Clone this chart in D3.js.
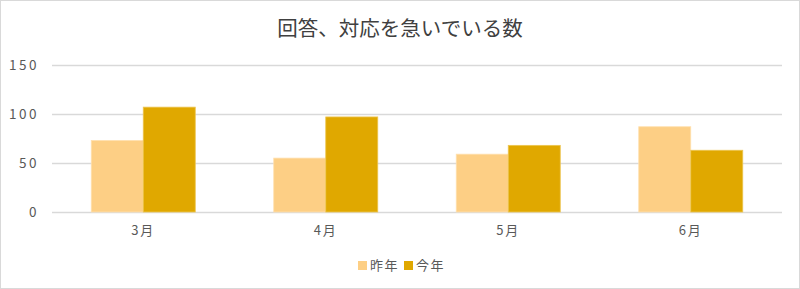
<!DOCTYPE html>
<html>
<head>
<meta charset="utf-8">
<script src="https://cdn.jsdelivr.net/npm/d3@7"></script>
<style>
  body { margin: 0; background: #fff; }
  svg text { font-family: "Noto Sans CJK JP", "Noto Sans", sans-serif; }
</style>
</head>
<body>
<div id="chart"></div>
<script>

months     = ["3月", "4月", "5月", "6月"]
lastYear   = [73, 55, 59, 87]
thisYear   = [107, 97, 68, 63]
seriesName = ["昨年", "今年"]
yTicks     = [0, 50, 100, 150]

var colors = ["#FDCF85", "#E0A800"]

var W = 800, H = 289
margin = {top: 65, right: 18, bottom: 77, left: 52}
width  = W - margin.left - margin.right
height = H - margin.top - margin.bottom

var svg = d3.select("#chart").append("svg")
  .attr("width", W)
  .attr("height", H)

// outer frame
svg.append("rect")
  .attr("x", 0.5).attr("y", 0.5)
  .attr("width", W - 1).attr("height", H - 1)
  .attr("fill", "#fff").attr("stroke", "#d9d9d9")

svg.append("text")
  .attr("x", W / 2).attr("y", 36)
  .attr("text-anchor", "middle")
  .attr("font-size", 20.5)
  .attr("fill", "#404040")
  .text("回答、対応を急いでいる数")

var g = svg.append("g").attr("transform", "translate(" + margin.left + "," + margin.top + ")")

var x  = d3.scaleBand().domain(months).range([0, width]).paddingInner(0.43).paddingOuter(0.215)
var x1 = d3.scaleBand().domain(seriesName).range([0, x.bandwidth()])
var y  = d3.scaleLinear().domain([0, 150]).range([height, 0])

// gridlines + y labels
var yAxis = g.append("g")
  .call(d3.axisLeft(y).tickValues(yTicks).tickSize(-width).tickPadding(13))
yAxis.select(".domain").remove()
yAxis.selectAll(".tick line").attr("stroke", "#d9d9d9").attr("stroke-width", 1.3)
yAxis.selectAll(".tick text")
  .attr("font-size", 13.5).attr("fill", "#595959")
  .attr("letter-spacing", 2.5)

var data = months.map(function(m, i) {
  return {month: m, values: [
    {name: seriesName[0], v: lastYear[i]},
    {name: seriesName[1], v: thisYear[i]}
  ]}
})

var grp = g.selectAll(".grp").data(data).enter().append("g")
  .attr("transform", function(d) { return "translate(" + x(d.month) + ",0)" })

grp.selectAll("rect").data(function(d) { return d.values }).enter()
  .append("rect")
  .attr("x", function(d) { return x1(d.name) })
  .attr("y", function(d) { return y(d.v) })
  .attr("width", x1.bandwidth())
  .attr("height", function(d) { return height - y(d.v) })
  .attr("fill", function(d, i) { return colors[i] })
  .attr("stroke", function(d, i) { return i == 0 ? "#FFE0AE" : "#EDC550" })
  .attr("stroke-width", 0.8)

// x labels
var xAxis = g.append("g").attr("transform", "translate(0," + height + ")")
  .call(d3.axisBottom(x).tickSize(0).tickPadding(14))
xAxis.select(".domain").remove()
xAxis.selectAll(".tick text")
  .attr("font-size", 13).attr("fill", "#595959")
  .attr("letter-spacing", 2)

// legend
var legend = svg.append("g").attr("transform", "translate(0,266)")
var lx = [358, 404]
seriesName.forEach(function(s, i) {
  legend.append("rect")
    .attr("x", lx[i]).attr("y", -5)
    .attr("width", 9).attr("height", 9)
    .attr("fill", colors[i])
  legend.append("text")
    .attr("x", lx[i] + 12).attr("y", -0.5)
    .attr("dy", "0.36em")
    .attr("font-size", 13).attr("fill", "#595959")
    .attr("letter-spacing", 1.5)
    .text(s)
})

</script>
</body>
</html>
